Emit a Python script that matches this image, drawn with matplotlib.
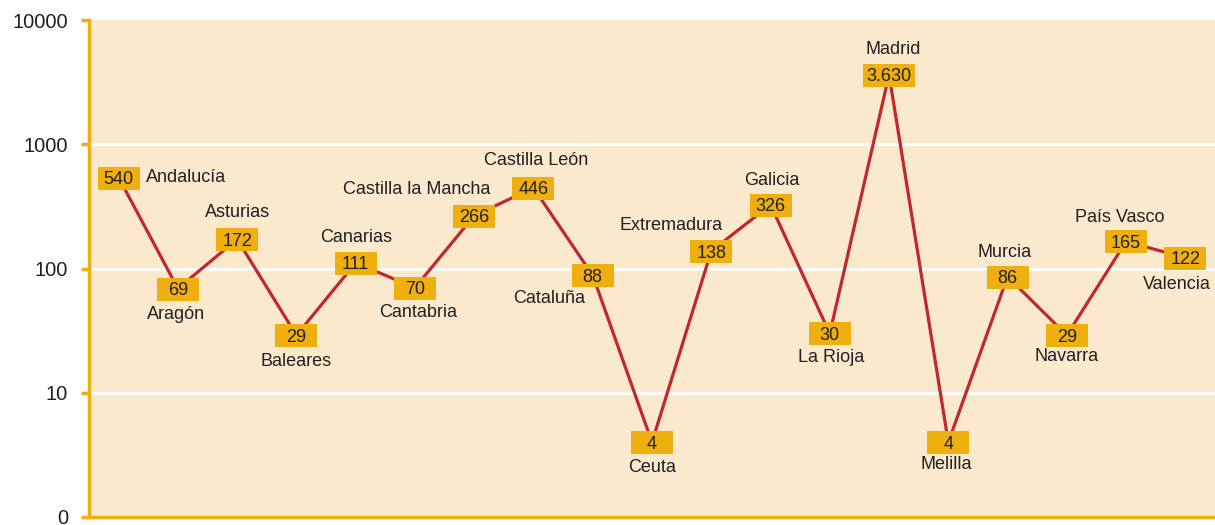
import matplotlib
matplotlib.use("Agg")
import matplotlib.pyplot as plt
from matplotlib.path import Path
from matplotlib.ticker import FixedLocator, NullLocator

plt.rcParams['font.family'] = ['Liberation Sans', 'DejaVu Sans']

# Data
regions = ["Andalucía", "Aragón", "Asturias", "Baleares", "Canarias", "Cantabria",
           "Castilla la Mancha", "Castilla León", "Cataluña", "Ceuta", "Extremadura",
           "Galicia", "La Rioja", "Madrid", "Melilla", "Murcia", "Navarra",
           "País Vasco", "Valencia"]
values = [540, 69, 172, 29, 111, 70, 266, 446, 88, 4, 138, 326, 30, 3630, 4, 86, 29, 165, 122]
value_labels = ["540", "69", "172", "29", "111", "70", "266", "446", "88", "4", "138",
                "326", "30", "3.630", "4", "86", "29", "165", "122"]
y_ticks = [1, 10, 100, 1000, 10000]
y_tick_labels = ["0", "10", "100", "1000", "10000"]

# name label placement: (dx px, dy px, ha)
name_pos = [
    (27, 0, "left"),      # Andalucía
    (-2, -26, "center"),  # Aragón
    (0, 27, "center"),    # Asturias
    (0, -26, "center"),   # Baleares
    (0, 25, "center"),    # Canarias
    (3, -25, "center"),   # Cantabria
    (16, 26, "right"),    # Castilla la Mancha
    (3, 27, "center"),    # Castilla León
    (-8, -23, "right"),   # Cataluña
    (0, -25, "center"),   # Ceuta
    (11, 26, "right"),    # Extremadura
    (1, 24, "center"),    # Galicia
    (1, -24, "center"),   # La Rioja
    (4, 25, "center"),    # Madrid
    (-2, -22, "center"),  # Melilla
    (-3, 24, "center"),   # Murcia
    (0, -21, "center"),   # Navarra
    (-6, 24, "center"),   # País Vasco
    (-9, -27, "center"),  # Valencia
]

gold = "#EFB00F"
bg = "#FAE9CC"
red = "#C1272D"
txt = "#231F20"

fig = plt.figure(figsize=(12.15, 5.25), dpi=100)
ax = fig.add_axes([89 / 1215, 8 / 525, 1 - 89 / 1215, 497 / 525])
ax.set_facecolor(bg)

x = list(range(len(values)))
ax.plot(x, values, color=red, lw=2.3, zorder=2)


def box_marker(w, h):
    # rectangle marker with width w and height h (pixels)
    return Path([(-w / 2, -h / 2), (w / 2, -h / 2), (w / 2, h / 2),
                 (-w / 2, h / 2), (-w / 2, -h / 2)], closed=True)


for i, (v, lab, name) in enumerate(zip(values, value_labels, regions)):
    w = 52 if len(lab) > 3 else 42
    ax.plot(i, v, ls="none", marker=box_marker(w, 23), markersize=w * 0.72,
            markerfacecolor=gold, markeredgewidth=0, zorder=3)
    ax.annotate(lab, (i, v), xytext=(0, -6.5), textcoords="offset pixels",
                ha="center", va="baseline", fontsize=13, color=txt, zorder=4)
    dx, dy, ha = name_pos[i]
    ax.annotate(name, (i, v), xytext=(dx, dy), textcoords="offset pixels",
                ha=ha, va="center", fontsize=13, color=txt, zorder=4)

ax.set_yscale("log")
ax.set_ylim(1, 10000)
ax.set_xlim(-0.5, 18.5)
ax.yaxis.set_major_locator(FixedLocator(y_ticks))
ax.yaxis.set_minor_locator(NullLocator())
ax.set_yticklabels(y_tick_labels)
ax.set_xticks([])
for yv in y_ticks[1:-1]:
    ax.axhline(yv, color="white", lw=2, zorder=1)

for s in ["top", "right"]:
    ax.spines[s].set_visible(False)
for s in ["left", "bottom"]:
    ax.spines[s].set_color(gold)
    ax.spines[s].set_linewidth(2.5)
ax.tick_params(axis="y", length=6, width=2.5, color=gold, labelsize=14.5,
               labelcolor=txt, pad=9)

fig.savefig("out.png", dpi=100)
